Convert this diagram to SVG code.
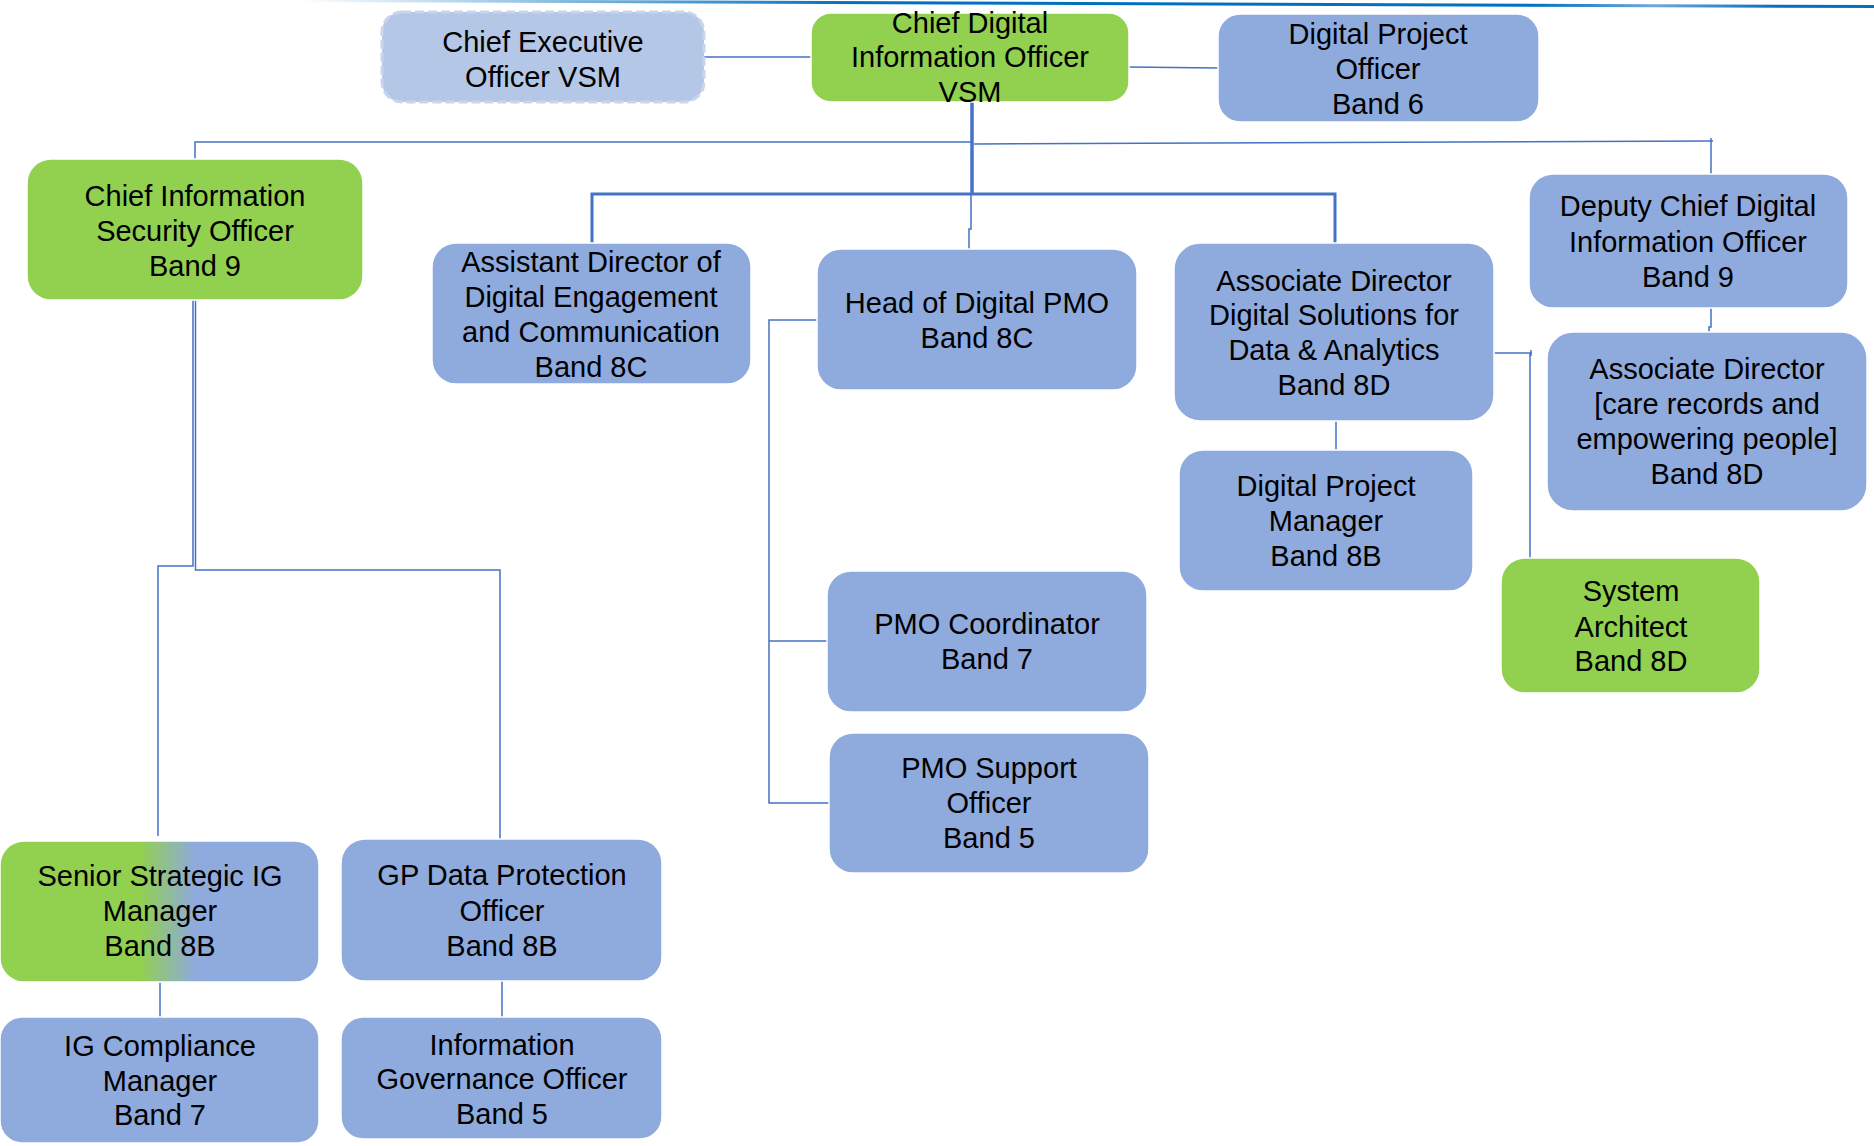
<svg xmlns="http://www.w3.org/2000/svg" width="1874" height="1146" viewBox="0 0 1874 1146">
<defs>
<style>
.box{stroke:#ffffff;stroke-width:1.5}
.blue{fill:#8FAADC}
.green{fill:#92D050}
.lbl{font-family:"Liberation Sans",Arial,sans-serif;font-size:29px;fill:#000;text-anchor:middle}
.c{fill:none;stroke:#4472C4;stroke-width:1.5}
.ct{fill:none;stroke:#4472C4;stroke-width:3.5}
</style>
<linearGradient id="topline" gradientUnits="userSpaceOnUse" x1="300" y1="0" x2="1874" y2="0">
<stop offset="0" stop-color="#ffffff"/>
<stop offset="0.35" stop-color="#0070C0"/>
<stop offset="0.78" stop-color="#0070C0"/>
<stop offset="0.86" stop-color="#6FA8DC"/>
<stop offset="0.94" stop-color="#0070C0"/>
<stop offset="1" stop-color="#0070C0"/>
</linearGradient>
<linearGradient id="gb" x1="0" y1="0" x2="1" y2="0">
<stop offset="0.44" stop-color="#92D050"/>
<stop offset="0.61" stop-color="#8FAADC"/>
</linearGradient>
</defs>
<rect width="1874" height="1146" fill="#ffffff"/>
<line x1="300" y1="0.5" x2="1874" y2="6.5" stroke="url(#topline)" stroke-width="3"/>

<g id="connectors">
<path class="c" d="M704 57 H811"/>
<path class="c" d="M1129 67 L1218 68"/>
<path class="ct" d="M972 102 V195"/>
<path class="c" d="M195 159 V142 H972"/>
<path class="c" d="M974 144 L1713 141"/>
<path class="c" d="M1711 138 V174"/>
<path class="ct" d="M592 243 V194 H1335 V243" style="stroke-width:3"/>
<path class="c" d="M971 195 V229 H969 V249"/>
<path class="c" d="M817 320 H769 V803 H829"/>
<path class="c" d="M769 641 H827"/>
<path class="c" d="M1336 421 V450"/>
<path class="c" d="M1494 353 H1532"/>
<path class="c" d="M1531 350 V356"/>
<path class="c" d="M1530 353 V558"/>
<path class="c" d="M1711 308 V327 H1709 V332"/>
<path class="c" d="M193 300 V566 H158 V836"/>
<path class="c" d="M195.5 300 V570 H500 V839"/>
<path class="c" d="M160 982 V1017"/>
<path class="c" d="M502 981 V1017"/>
</g>

<g id="ceo">
<rect x="382" y="12" width="322" height="90" rx="20" fill="#B4C7E7" stroke="#C9D5EA" stroke-width="3" stroke-dasharray="9 4"/>
<text class="lbl" x="543"><tspan x="543" y="52">Chief Executive</tspan><tspan x="543" y="87">Officer VSM</tspan></text>
</g>

<g id="cdio">
<rect class="box green" x="811" y="13" width="318" height="89" rx="20"/>
<text class="lbl"><tspan x="970" y="33">Chief Digital</tspan><tspan x="970" y="67">Information Officer</tspan><tspan x="970" y="102">VSM</tspan></text>
</g>

<g id="dpo">
<rect class="box blue" x="1218" y="14" width="321" height="108" rx="22"/>
<text class="lbl"><tspan x="1378" y="44">Digital Project</tspan><tspan x="1378" y="79">Officer</tspan><tspan x="1378" y="114">Band 6</tspan></text>
</g>

<g id="ciso">
<rect class="box green" x="27" y="159" width="336" height="141" rx="24"/>
<text class="lbl"><tspan x="195" y="206">Chief Information</tspan><tspan x="195" y="241">Security Officer</tspan><tspan x="195" y="276">Band 9</tspan></text>
</g>

<g id="ad-engagement">
<rect class="box blue" x="432" y="243" width="319" height="141" rx="24"/>
<text class="lbl"><tspan x="591" y="272">Assistant Director of</tspan><tspan x="591" y="307">Digital Engagement</tspan><tspan x="591" y="342">and Communication</tspan><tspan x="591" y="377">Band 8C</tspan></text>
</g>

<g id="head-pmo">
<rect class="box blue" x="817" y="249" width="320" height="141" rx="24"/>
<text class="lbl"><tspan x="977" y="313">Head of Digital PMO</tspan><tspan x="977" y="348">Band 8C</tspan></text>
</g>

<g id="ad-solutions">
<rect class="box blue" x="1174" y="243" width="320" height="178" rx="26"/>
<text class="lbl"><tspan x="1334" y="291">Associate Director</tspan><tspan x="1334" y="325">Digital Solutions for</tspan><tspan x="1334" y="360">Data &amp; Analytics</tspan><tspan x="1334" y="395">Band 8D</tspan></text>
</g>

<g id="deputy">
<rect class="box blue" x="1529" y="174" width="319" height="134" rx="24"/>
<text class="lbl"><tspan x="1688" y="216">Deputy Chief Digital</tspan><tspan x="1688" y="252">Information Officer</tspan><tspan x="1688" y="287">Band 9</tspan></text>
</g>

<g id="ad-care">
<rect class="box blue" x="1547" y="332" width="320" height="179" rx="26"/>
<text class="lbl"><tspan x="1707" y="379">Associate Director</tspan><tspan x="1707" y="414">[care records and</tspan><tspan x="1707" y="449">empowering people]</tspan><tspan x="1707" y="484">Band 8D</tspan></text>
</g>

<g id="dpm">
<rect class="box blue" x="1179" y="450" width="294" height="141" rx="24"/>
<text class="lbl"><tspan x="1326" y="496">Digital Project</tspan><tspan x="1326" y="531">Manager</tspan><tspan x="1326" y="566">Band 8B</tspan></text>
</g>

<g id="system-architect">
<rect class="box green" x="1501" y="558" width="259" height="135" rx="24"/>
<text class="lbl"><tspan x="1631" y="601">System</tspan><tspan x="1631" y="637">Architect</tspan><tspan x="1631" y="671">Band 8D</tspan></text>
</g>

<g id="pmo-coordinator">
<rect class="box blue" x="827" y="571" width="320" height="141" rx="24"/>
<text class="lbl"><tspan x="987" y="634">PMO Coordinator</tspan><tspan x="987" y="669">Band 7</tspan></text>
</g>

<g id="pmo-support">
<rect class="box blue" x="829" y="733" width="320" height="140" rx="24"/>
<text class="lbl"><tspan x="989" y="778">PMO Support</tspan><tspan x="989" y="813">Officer</tspan><tspan x="989" y="848">Band 5</tspan></text>
</g>

<g id="senior-ig">
<rect class="box" fill="url(#gb)" x="0" y="841" width="319" height="141" rx="24"/>
<text class="lbl"><tspan x="160" y="886">Senior Strategic IG</tspan><tspan x="160" y="921">Manager</tspan><tspan x="160" y="956">Band 8B</tspan></text>
</g>

<g id="gp-dpo">
<rect class="box blue" x="341" y="839" width="321" height="142" rx="24"/>
<text class="lbl"><tspan x="502" y="885">GP Data Protection</tspan><tspan x="502" y="921">Officer</tspan><tspan x="502" y="956">Band 8B</tspan></text>
</g>

<g id="ig-compliance">
<rect class="box blue" x="0" y="1017" width="319" height="126" rx="22"/>
<text class="lbl"><tspan x="160" y="1056">IG Compliance</tspan><tspan x="160" y="1091">Manager</tspan><tspan x="160" y="1125">Band 7</tspan></text>
</g>

<g id="igo">
<rect class="box blue" x="341" y="1017" width="321" height="122" rx="22"/>
<text class="lbl"><tspan x="502" y="1055">Information</tspan><tspan x="502" y="1089">Governance Officer</tspan><tspan x="502" y="1124">Band 5</tspan></text>
</g>
</svg>
